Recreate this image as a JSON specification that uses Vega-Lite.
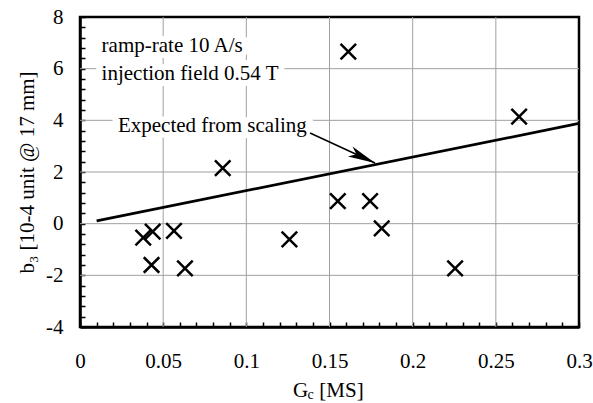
{
  "$schema": "https://vega.github.io/schema/vega-lite/v6.json",
  "width": 499,
  "height": 310,
  "autosize": {"type": "none"},
  "padding": {"left": 80, "top": 17, "right": 14, "bottom": 76},
  "background": "white",
  "datasets": {
    "measured": [
      {"gc": 0.038, "b3": -0.54},
      {"gc": 0.0437, "b3": -0.31},
      {"gc": 0.0565, "b3": -0.28},
      {"gc": 0.043, "b3": -1.6},
      {"gc": 0.0631, "b3": -1.73},
      {"gc": 0.0858, "b3": 2.15},
      {"gc": 0.1259, "b3": -0.61},
      {"gc": 0.155, "b3": 0.87},
      {"gc": 0.1613, "b3": 6.66},
      {"gc": 0.1744, "b3": 0.87},
      {"gc": 0.1814, "b3": -0.18},
      {"gc": 0.2255, "b3": -1.73},
      {"gc": 0.264, "b3": 4.14}
    ],
    "scaling": [
      {"gc": 0.01, "b3": 0.11},
      {"gc": 0.3, "b3": 3.88}
    ],
    "gridX": [{"v": 0.05}, {"v": 0.1}, {"v": 0.15}, {"v": 0.2}, {"v": 0.25}],
    "gridY": [{"v": -2}, {"v": 0}, {"v": 2}, {"v": 4}, {"v": 6}],
    "one": [{}]
  },
  "config": {
    "view": {"stroke": "black", "strokeWidth": 2.5},
    "font": "Liberation Serif",
    "text": {"font": "Liberation Serif"}
  },
  "resolve": {"axis": {"x": "independent", "y": "independent"}},
  "layer": [
    {
      "data": {"name": "gridX"},
      "mark": {"type": "rule", "color": "#a0a0a0", "strokeWidth": 1},
      "encoding": {
        "x": {"field": "v", "type": "quantitative", "scale": {"domain": [0, 0.3], "nice": false, "zero": false}, "axis": null}
      }
    },
    {
      "data": {"name": "gridY"},
      "mark": {"type": "rule", "color": "#a0a0a0", "strokeWidth": 1},
      "encoding": {
        "y": {"field": "v", "type": "quantitative", "scale": {"domain": [-4, 8], "nice": false, "zero": false}, "axis": null}
      }
    },
    {
      "data": {"name": "measured"},
      "mark": {"type": "point", "opacity": 0},
      "encoding": {
        "x": {
          "field": "gc",
          "type": "quantitative",
          "scale": {"domain": [0, 0.3], "nice": false, "zero": false},
          "axis": {
            "orient": "bottom",
            "title": null,
            "values": [0, 0.05, 0.1, 0.15, 0.2, 0.25, 0.3],
            "labelExpr": "datum.value + ''",
            "labelOverlap": false,
            "labelFlush": false,
            "labelFont": "Liberation Serif",
            "labelFontSize": 21,
            "labelColor": "black",
            "labelPadding": 28,
            "tickSize": -5,
            "tickColor": "black",
            "tickWidth": 1.5,
            "domainColor": "black",
            "domainWidth": 2.5,
            "grid": false
          }
        },
        "y": {
          "field": "b3",
          "type": "quantitative",
          "scale": {"domain": [-4, 8], "nice": false, "zero": false},
          "axis": {
            "orient": "left",
            "title": "b₃  [10-4 unit @ 17 mm]",
            "titleFont": "Liberation Serif",
            "titleFontSize": 21,
            "titleFontWeight": "normal",
            "titleColor": "black",
            "titlePadding": 8,
            "values": [-4, -2, 0, 2, 4, 6, 8],
            "labelExpr": "datum.value + ''",
            "labelOverlap": false,
            "labelFlush": false,
            "labelFont": "Liberation Serif",
            "labelFontSize": 21,
            "labelColor": "black",
            "labelPadding": 22,
            "tickSize": -5,
            "tickColor": "black",
            "tickWidth": 1.5,
            "domainColor": "black",
            "domainWidth": 2.5,
            "grid": false
          }
        }
      }
    },
    {
      "data": {"name": "measured"},
      "mark": {"type": "point", "opacity": 0},
      "encoding": {
        "x": {
          "field": "gc",
          "type": "quantitative",
          "axis": {
            "orient": "bottom",
            "title": null,
            "tickCount": 100,
            "values": [0.01, 0.02, 0.03, 0.04, 0.06, 0.07, 0.08, 0.09, 0.11, 0.12, 0.13, 0.14, 0.16, 0.17, 0.18, 0.19, 0.21, 0.22, 0.23, 0.24, 0.26, 0.27, 0.28, 0.29],
            "labels": false,
            "domain": false,
            "grid": false,
            "tickSize": -5,
            "tickColor": "black",
            "tickWidth": 1.5
          }
        },
        "y": {
          "field": "b3",
          "type": "quantitative",
          "axis": {
            "orient": "left",
            "title": null,
            "tickCount": 100,
            "values": [-3.6, -3.2, -2.8, -2.4, -1.6, -1.2, -0.8, -0.4, 0.4, 0.8, 1.2, 1.6, 2.4, 2.8, 3.2, 3.6, 4.4, 4.8, 5.2, 5.6, 6.4, 6.8, 7.2, 7.6],
            "labels": false,
            "domain": false,
            "grid": false,
            "tickSize": -5,
            "tickColor": "black",
            "tickWidth": 1.5
          }
        }
      }
    },
    {
      "data": {"name": "one"},
      "mark": {"type": "text", "text": "ramp-rate 10 A/s", "fontSize": 21, "align": "left", "baseline": "alphabetic", "color": "white", "stroke": "white", "strokeWidth": 12},
      "encoding": {
        "x": {"datum": 0.013, "type": "quantitative", "axis": null},
        "y": {"datum": 6.645, "type": "quantitative", "axis": null}
      }
    },
    {
      "data": {"name": "one"},
      "mark": {"type": "text", "text": "injection field 0.54 T", "fontSize": 21, "align": "left", "baseline": "alphabetic", "color": "white", "stroke": "white", "strokeWidth": 12},
      "encoding": {
        "x": {"datum": 0.013, "type": "quantitative", "axis": null},
        "y": {"datum": 5.56, "type": "quantitative", "axis": null}
      }
    },
    {
      "data": {"name": "one"},
      "mark": {"type": "text", "text": "Expected from scaling", "fontSize": 21, "align": "left", "baseline": "alphabetic", "color": "white", "stroke": "white", "strokeWidth": 12},
      "encoding": {
        "x": {"datum": 0.0228, "type": "quantitative", "axis": null},
        "y": {"datum": 3.55, "type": "quantitative", "axis": null}
      }
    },
    {
      "data": {"name": "scaling"},
      "mark": {"type": "line", "color": "black", "strokeWidth": 2.7},
      "encoding": {
        "x": {"field": "gc", "type": "quantitative", "axis": null},
        "y": {"field": "b3", "type": "quantitative", "axis": null}
      }
    },
    {
      "data": {"name": "measured"},
      "mark": {"type": "point", "shape": "M-1,-1L1,1M-1,1L1,-1", "size": 240, "stroke": "black", "strokeWidth": 2.5, "filled": false, "opacity": 1},
      "encoding": {
        "x": {"field": "gc", "type": "quantitative", "axis": null},
        "y": {"field": "b3", "type": "quantitative", "axis": null}
      }
    },
    {
      "data": {"name": "one"},
      "mark": {"type": "rule", "color": "black", "strokeWidth": 1.5},
      "encoding": {
        "x": {"datum": 0.1383, "type": "quantitative", "axis": null},
        "y": {"datum": 3.51, "type": "quantitative", "axis": null},
        "x2": {"datum": 0.1774},
        "y2": {"datum": 2.35}
      }
    },
    {
      "data": {"name": "one"},
      "mark": {"type": "point", "shape": "M0,0L-0.4,2L0,1.5L0.4,2Z", "size": 750, "filled": true, "color": "black", "opacity": 1, "angle": 114.8},
      "encoding": {
        "x": {"datum": 0.1774, "type": "quantitative", "axis": null},
        "y": {"datum": 2.35, "type": "quantitative", "axis": null}
      }
    },
    {
      "data": {"name": "one"},
      "mark": {"type": "text", "text": "ramp-rate 10 A/s", "fontSize": 21, "align": "left", "baseline": "alphabetic", "color": "black"},
      "encoding": {
        "x": {"datum": 0.013, "type": "quantitative", "axis": null},
        "y": {"datum": 6.645, "type": "quantitative", "axis": null}
      }
    },
    {
      "data": {"name": "one"},
      "mark": {"type": "text", "text": "injection field 0.54 T", "fontSize": 21, "align": "left", "baseline": "alphabetic", "color": "black"},
      "encoding": {
        "x": {"datum": 0.013, "type": "quantitative", "axis": null},
        "y": {"datum": 5.56, "type": "quantitative", "axis": null}
      }
    },
    {
      "data": {"name": "one"},
      "mark": {"type": "text", "text": "Expected from scaling", "fontSize": 21, "align": "left", "baseline": "alphabetic", "color": "black"},
      "encoding": {
        "x": {"datum": 0.0228, "type": "quantitative", "axis": null},
        "y": {"datum": 3.55, "type": "quantitative", "axis": null}
      }
    },
    {
      "data": {"name": "one"},
      "mark": {"type": "text", "text": "G", "fontSize": 21, "align": "left", "baseline": "alphabetic", "color": "black"},
      "encoding": {
        "x": {"datum": 0.128, "type": "quantitative", "axis": null},
        "y": {"datum": -6.72, "type": "quantitative", "axis": null}
      }
    },
    {
      "data": {"name": "one"},
      "mark": {"type": "text", "text": "c", "fontSize": 14, "align": "left", "baseline": "alphabetic", "color": "black"},
      "encoding": {
        "x": {"datum": 0.1367, "type": "quantitative", "axis": null},
        "y": {"datum": -6.8, "type": "quantitative", "axis": null}
      }
    },
    {
      "data": {"name": "one"},
      "mark": {"type": "text", "text": "[MS]", "fontSize": 21, "align": "left", "baseline": "alphabetic", "color": "black"},
      "encoding": {
        "x": {"datum": 0.1439, "type": "quantitative", "axis": null},
        "y": {"datum": -6.72, "type": "quantitative", "axis": null}
      }
    }
  ]
}
